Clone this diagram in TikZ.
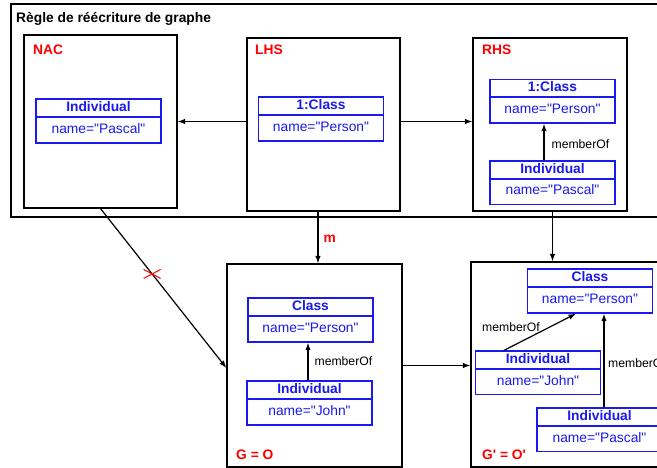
\documentclass[tikz,border=0pt]{standalone}
\usepackage{fontspec}
\setmainfont{Liberation Sans}[Ligatures=TeXOff]
\usetikzlibrary{arrows.meta}
\definecolor{objblue}{RGB}{25,25,240}
\tikzset{
  frame/.style={draw=black, line width=1.2pt, inner sep=0pt},
  hdr/.style={draw=objblue, line width=1.3pt, text=objblue, inner sep=0pt,
    font=\bfseries\fontsize{13.8}{16}\selectfont,
    minimum width=125pt, minimum height=18pt, text height=10pt, text depth=3pt},
  body/.style={draw=objblue, line width=1.3pt, text=objblue, inner sep=0pt,
    font=\fontsize{13.8}{16}\selectfont,
    minimum width=125pt, minimum height=26pt, text height=10pt, text depth=3pt},
  lbl/.style={text=red, font=\bfseries\fontsize{13.8}{16}\selectfont,
    anchor=west, inner sep=0pt, text height=9.9pt, text depth=0pt},
  rel/.style={font=\fontsize{12.2}{14}\selectfont, anchor=west, inner sep=0pt,
    text height=8.7pt, text depth=0pt},
  link/.style={draw=black, line width=1.2pt, -{Latex[length=7.5pt,width=5.5pt]}},
}
\begin{document}
\begin{tikzpicture}[x=1pt,y=-1pt]
\clip (0,0) rectangle (657,468);
\fill[white] (0,0) rectangle (657,468);

% rule frame and its three parts
\node[frame, minimum width=659pt, minimum height=213pt] (rule) at (340.5,110.5) {};
\node[anchor=west, inner sep=0pt, font=\bfseries\fontsize{13.8}{16}\selectfont,
      text height=9.9pt, text depth=0pt] (title) at (16,18) {Règle de réécriture de graphe};

\node[frame, minimum width=153pt, minimum height=173pt] (nac) at (100.5,121.5) {};
\node[frame, minimum width=153pt, minimum height=173pt] (lhs) at (323.5,124.5) {};
\node[frame, minimum width=154pt, minimum height=173pt] (rhs) at (550,124.5) {};
\node[lbl] (nacl) at (33,50) {NAC};
\node[lbl] (lhsl) at (255,50) {LHS};
\node[lbl] (rhsl) at (482,50) {RHS};

% NAC
\node[hdr]  (nacIh) at (98.5,108) {Individual};
\node[body] (nacIb) at (98.5,130) {name="Pascal"};
% LHS
\node[hdr]  (lhsCh) at (321,106) {1:Class};
\node[body] (lhsCb) at (321,128) {name="Person"};
% RHS
\node[hdr]  (rhsCh) at (552.5,88.5) {1:Class};
\node[body] (rhsCb) at (552.5,110) {name="Person"};
\node[hdr]  (rhsIh) at (552.5,170) {Individual};
\node[body] (rhsIb) at (552.5,191.5) {name="Pascal"};
\draw[link] ([xshift=-8.5pt]rhsIh.north) -- ([xshift=-8.5pt]rhsCb.south)
  node[rel, pos=0.45, xshift=7pt] (rhsm) {memberOf};

% host graph G
\node[frame, minimum width=175pt, minimum height=203pt] (g) at (314.5,365.5) {};
\node[lbl] (gl) at (236,455) {G = O};
\node[hdr]  (gCh) at (310.5,307) {Class};
\node[body] (gCb) at (310.5,329) {name="Person"};
\node[hdr]  (gJh) at (309.5,390) {Individual};
\node[body] (gJb) at (309.5,412) {name="John"};
\draw[link] ([xshift=-1.5pt]gJh.north) -- ([xshift=-2.5pt]gCb.south)
  node[rel, pos=0.52, xshift=6pt] (gm) {memberOf};

% result graph G'
\node[frame, minimum width=219pt, minimum height=205pt] (gp) at (580.5,364.5) {};
\node[lbl] (gpl) at (482,455) {G' = O'};
\node[hdr]  (gpCh) at (590,278) {Class};
\node[body] (gpCb) at (590,300) {name="Person"};
\node[hdr]  (gpJh) at (538,360) {Individual};
\node[body] (gpJb) at (538,381.5) {name="John"};
\node[hdr]  (gpPh) at (599.5,417) {Individual};
\node[body] (gpPb) at (599.5,438.5) {name="Pascal"};
\draw[link] ([xshift=-34pt]gpJh.north) -- ([xshift=-14pt]gpCb.south);
\node[rel] (gpm1) at (482,327) {memberOf};
\draw[link] ([xshift=4.5pt]gpPh.north) -- ([xshift=14pt]gpCb.south);
\node[rel] (gpm2) at (608,363) {memberOf};

% morphisms between the graphs
\draw[link] (lhs.west |- nac.east) -- (nac.east);
\draw[link] (lhs.east |- nac.east) -- (rhs.west |- nac.east);
\draw[link] ([xshift=-5.5pt]lhs.south) -- ([xshift=3.5pt]g.north)
  node[lbl, pos=0.5, xshift=5pt] (ml) {m};
\draw[link] (rhs.south -| rhsIb.south) -- (gp.north -| rhsIb.south);
\draw[link] (g.east) -- (gp.west |- g.east);
\draw[link] (nac.south) -- ([yshift=-2.5pt]g.west)
  coordinate[pos=0.41] (nx);
\draw[red, line width=1pt] ([shift={(-8.5pt,4.5pt)}]nx) -- ([shift={(8.5pt,-4.5pt)}]nx)
  ([shift={(-8.5pt,-4.5pt)}]nx) -- ([shift={(8.5pt,4.5pt)}]nx);
\end{tikzpicture}
\end{document}
